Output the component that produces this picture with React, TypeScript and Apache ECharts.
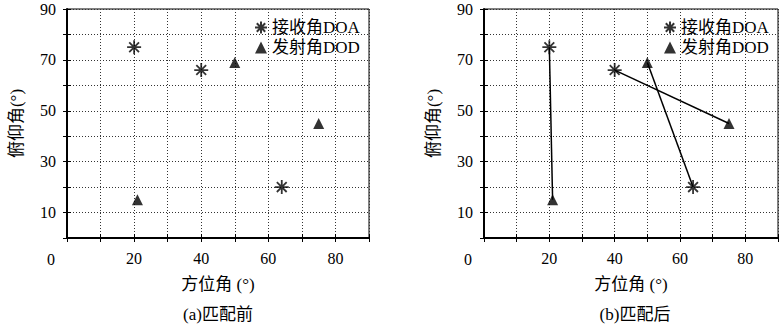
import React, { useEffect, useRef } from "react";
import * as echarts from "echarts";

// Data
const doaPoints: number[][] = [
  [20, 75],
  [40, 66],
  [64, 20],
];
const dodPoints: number[][] = [
  [21, 15],
  [50, 69],
  [75, 45],
];
// matched pairs: [DOA index, DOD index]
const matchedPairs: number[][] = [
  [0, 0],
  [1, 2],
  [2, 1],
];
const xTickLabels = [20, 40, 60, 80];
const yTickLabels = [10, 30, 50, 70, 90];
const originLabel = "0";
const seriesNames = ["接收角DOA", "发射角DOD"];
const xAxisName = "方位角 (°)";
const yAxisName = "俯仰角(°)";
const captions = ["(a)匹配前", "(b)匹配后"];

const FONT = "'Liberation Serif', 'DejaVu Serif', 'Noto Sans CJK SC', serif";
const ASTERISK = "path://M10,0L10,20M0,10L20,10M3,3L17,17M3,17L17,3";

export default function App() {
  const ref = useRef<HTMLDivElement>(null);
  useEffect(() => {
    if (!ref.current) return;
    const chart = echarts.init(ref.current, null, { renderer: "svg" });

    const panels = [
      { left: 67, withLines: false, legendLeft: 249 },
      { left: 484, withLines: true, legendLeft: 658 },
    ];
    const gridW = 302;
    const gridTop = 9;
    const gridH = 229;

    const grid: any[] = [];
    const xAxis: any[] = [];
    const yAxis: any[] = [];
    const series: any[] = [];
    const legend: any[] = [];
    const title: any[] = [];
    const graphic: any[] = [];

    panels.forEach((p, i) => {
      grid.push({
        left: p.left,
        top: gridTop,
        width: gridW,
        height: gridH,
        show: true,
        borderColor: "#000",
        borderWidth: 1,
        containLabel: false,
      });
      const baseX = {
        type: "value",
        gridIndex: i,
        min: 0,
        max: 90,
        interval: 10,
      };
      xAxis.push({
        ...baseX,
        position: "bottom",
        name: xAxisName,
        nameLocation: "middle",
        nameGap: 38,
        nameTextStyle: { fontFamily: FONT, fontSize: 17, color: "#000" },
        axisLine: { show: true, onZero: false, lineStyle: { color: "#000", width: 2 } },
        axisTick: { show: true, inside: true, length: 4, lineStyle: { color: "#000" } },
        axisLabel: {
          show: true,
          margin: 12,
          fontFamily: FONT,
          fontSize: 16,
          color: "#000",
          formatter: (v: number) => (xTickLabels.includes(v) ? String(v) : ""),
        },
        splitLine: { show: true, lineStyle: { color: "#333", type: [1, 2], width: 1 } },
      });
      xAxis.push({
        ...baseX,
        position: "top",
        axisLine: { show: false },
        axisTick: { show: true, inside: true, length: 4, lineStyle: { color: "#000" } },
        axisLabel: { show: false },
        splitLine: { show: false },
      });
      const baseY = {
        type: "value",
        gridIndex: i,
        min: 0,
        max: 90,
        interval: 10,
      };
      yAxis.push({
        ...baseY,
        position: "left",
        name: yAxisName,
        nameLocation: "middle",
        nameGap: 42,
        nameTextStyle: { fontFamily: FONT, fontSize: 17, color: "#000" },
        axisLine: { show: true, onZero: false, lineStyle: { color: "#000", width: 2 } },
        axisTick: { show: true, inside: true, length: 4, lineStyle: { color: "#000" } },
        axisLabel: {
          show: true,
          margin: 11,
          fontFamily: FONT,
          fontSize: 16,
          color: "#000",
          formatter: (v: number) => (yTickLabels.includes(v) ? String(v) : ""),
        },
        splitLine: { show: true, lineStyle: { color: "#333", type: [1, 2], width: 1 } },
      });
      yAxis.push({
        ...baseY,
        position: "right",
        axisLine: { show: false },
        axisTick: { show: true, inside: true, length: 4, lineStyle: { color: "#000" } },
        axisLabel: { show: false },
        splitLine: { show: false },
      });

      if (p.withLines) {
        matchedPairs.forEach(([a, b], k) => {
          series.push({
            name: "pair" + k,
            type: "line",
            xAxisIndex: i * 2,
            yAxisIndex: i * 2,
            data: [doaPoints[a], dodPoints[b]],
            symbol: "none",
            lineStyle: { color: "#000", width: 1.5 },
            z: 1,
            silent: true,
          });
        });
      }
      series.push({
        name: seriesNames[0],
        type: "scatter",
        xAxisIndex: i * 2,
        yAxisIndex: i * 2,
        data: doaPoints,
        symbol: ASTERISK,
        symbolSize: 14,
        itemStyle: { color: "#000", borderColor: "#000", borderWidth: 1.8 },
        z: 3,
      });
      series.push({
        name: seriesNames[1],
        type: "scatter",
        xAxisIndex: i * 2,
        yAxisIndex: i * 2,
        data: dodPoints,
        symbol: "triangle",
        symbolSize: 11,
        itemStyle: { color: "#000" },
        z: 3,
      });

      legend.push({
        data: seriesNames,
        orient: "vertical",
        left: p.legendLeft,
        top: 14,
        itemWidth: 12,
        itemHeight: 12,
        itemGap: 3,
        selectedMode: false,
        textStyle: { fontFamily: FONT, fontSize: 17, color: "#000" },
      });

      title.push({
        text: captions[i],
        left: p.left + gridW / 2,
        top: 306,
        padding: 0,
        textAlign: "center",
        textStyle: { fontFamily: FONT, fontSize: 17, fontWeight: "normal", color: "#000" },
      });

      graphic.push({
        type: "text",
        x: p.left - 12,
        y: 259,
        style: {
          text: originLabel,
          fontFamily: FONT,
          fontSize: 16,
          fill: "#000",
          textAlign: "right",
          textVerticalAlign: "middle",
        },
      });
    });

    chart.setOption({
      animation: false,
      backgroundColor: "#fff",
      grid,
      xAxis,
      yAxis,
      series,
      legend,
      title,
      graphic,
    });
    return () => chart.dispose();
  }, []);
  return (
    <div
      ref={ref}
      style={{ position: "absolute", left: 0, top: 0, width: 781, height: 334 }}
    />
  );
}
